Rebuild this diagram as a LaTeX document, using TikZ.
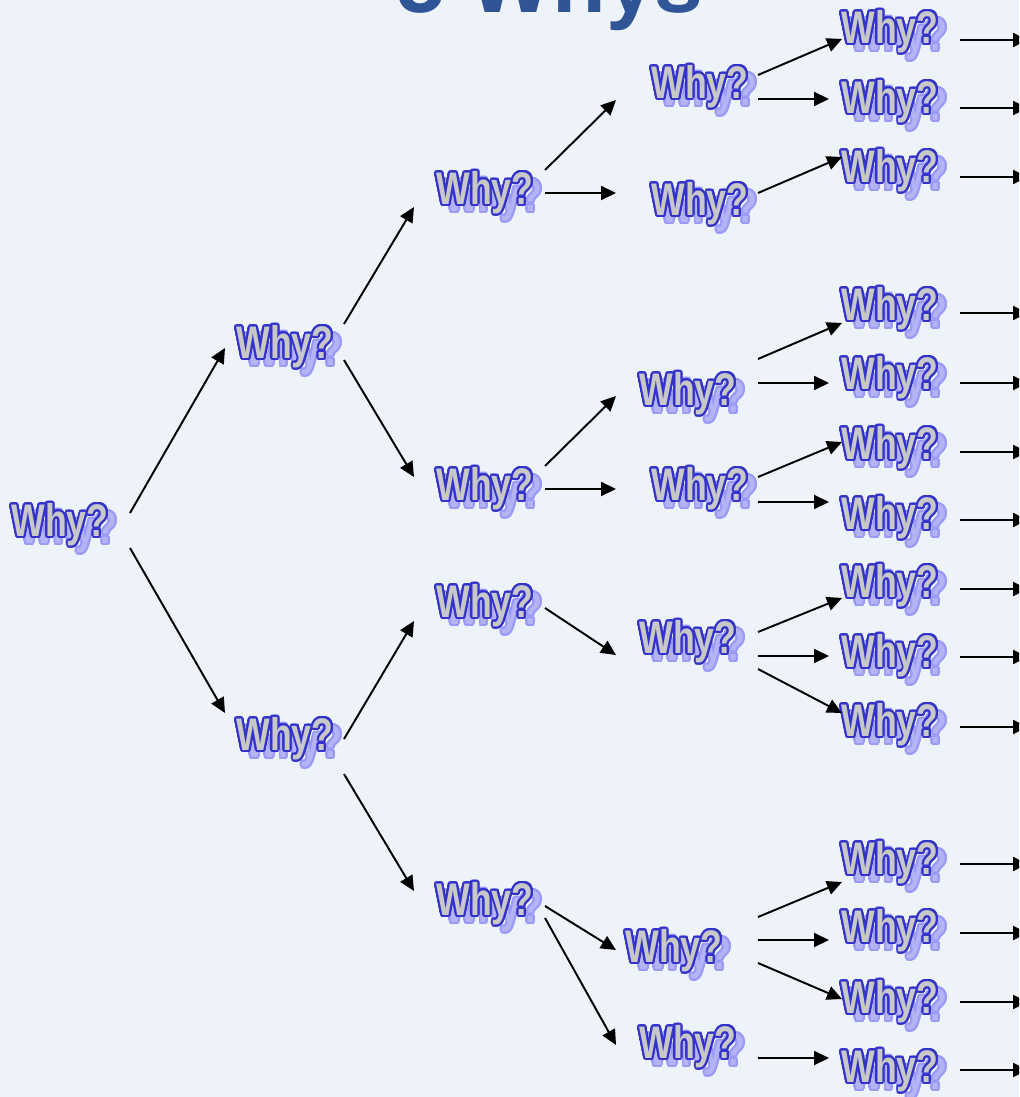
\documentclass[tikz,border=0pt]{standalone}
\usepackage{fontspec}
\usepackage[copies]{contour}
\usetikzlibrary{arrows.meta}

\newfontfamily\whyfont[FakeStretch=0.78]{Liberation Sans}
\newfontfamily\titlefont{Liberation Sans}

\definecolor{bgcol}{HTML}{EEF3FA}
\definecolor{titleblue}{HTML}{2F5597}
\definecolor{whyfill}{HTML}{C8C8C8}
\definecolor{whyline}{HTML}{3333CC}
\definecolor{whyshade}{HTML}{B4B4F4}
\definecolor{whyshadeline}{HTML}{9A9AF8}

\contourlength{1.1pt}
\contournumber{24}

% outlined word with its shadow behind it
\newcommand{\whyword}{%
  \makebox[0pt][l]{\hspace{5pt}\smash{\raisebox{-4pt}{\color{whyshade}\contour{whyshadeline}{Why?}}}}%
  {\color{whyfill}\contour{whyline}{Why?}}}

\begin{document}
\begin{tikzpicture}[x=0.02cm,y=-0.02cm]
\tikzset{why/.style={inner sep=0pt, text height=18.6pt, text depth=0pt,
    font=\whyfont\bfseries\fontsize{26}{30}\selectfont},
  arr/.style={line width=1.1pt, -{Triangle[length=0.3cm,width=0.28cm]}}}
\useasboundingbox (0,0) rectangle (1019,1097);
\clip (0,0) rectangle (1019,1097);
\fill[bgcol] (0,0) rectangle (1019,1097);
\node[font=\titlefont\bfseries\fontsize{50}{60}\selectfont, text=titleblue, anchor=base] (title) at (550,13) {5 Whys};
% first levels
\node[why] (root) at (60,520) {\whyword};
\node[why] (a1) at (285,342) {\whyword};
\node[why] (a2) at (285,734) {\whyword};
\node[why] (b1) at (485,188) {\whyword};
\node[why] (b2) at (485,484) {\whyword};
\node[why] (b3) at (485,601) {\whyword};
\node[why] (b4) at (485,899) {\whyword};
\node[why] (c1) at (700,82) {\whyword};
\node[why] (c2) at (700,199) {\whyword};
\node[why] (c3) at (688,389) {\whyword};
\node[why] (c4) at (700,484) {\whyword};
\node[why] (c5) at (688,637) {\whyword};
\node[why] (c6) at (674,946) {\whyword};
\node[why] (c7) at (688,1042) {\whyword};
% last level, with the arrows leaving the page
\foreach \y/\a [count=\i] in {27/40,97/108,166/177,304/313,373/383,443/452,513/520,581/589,651/657,720/727,858/864,926/933,997/1002,1066/1070} {
  \node[why] (d\i) at (890,\y) {\whyword};
  \coordinate (r\i) at (1028,\a);
  \draw[arr] ([shift={(70,\a-\y)}]d\i.center) -- (r\i);
}
\draw[arr] ([shift={(70,-7)}]root.center) -- ([shift={(-60,6)}]a1.center);
\draw[arr] ([shift={(70,28)}]root.center) -- ([shift={(-60,-21)}]a2.center);
\draw[arr] ([shift={(59,-18)}]a1.center) -- ([shift={(-71,19)}]b1.center);
\draw[arr] ([shift={(59,18)}]a1.center) -- ([shift={(-71,-7)}]b2.center);
\draw[arr] ([shift={(59,5)}]a2.center) -- ([shift={(-71,20)}]b3.center);
\draw[arr] ([shift={(59,40)}]a2.center) -- ([shift={(-71,-8)}]b4.center);
\draw[arr] ([shift={(60,-18)}]b1.center) -- ([shift={(-84,18)}]c1.center);
\draw[arr] ([shift={(60,5)}]b1.center) -- ([shift={(-84,-6)}]c2.center);
\draw[arr] ([shift={(60,-18)}]b2.center) -- ([shift={(-72,7)}]c3.center);
\draw[arr] ([shift={(60,5)}]b2.center) -- ([shift={(-84,5)}]c4.center);
\draw[arr] ([shift={(60,7)}]b3.center) -- ([shift={(-72,18)}]c5.center);
\draw[arr] ([shift={(60,7)}]b4.center) -- ([shift={(-58,4)}]c6.center);
\draw[arr] ([shift={(60,19)}]b4.center) -- ([shift={(-72,3)}]c7.center);
\draw[arr] ([shift={(58,-7)}]c1.center) -- ([shift={(-48,12)}]d1.center);
\draw[arr] ([shift={(58,17)}]c1.center) -- ([shift={(-61,2)}]d2.center);
\draw[arr] ([shift={(58,-6)}]c2.center) -- ([shift={(-48,-9)}]d3.center);
\draw[arr] ([shift={(70,-30)}]c3.center) -- ([shift={(-48,19)}]d4.center);
\draw[arr] ([shift={(70,-6)}]c3.center) -- ([shift={(-61,10)}]d5.center);
\draw[arr] ([shift={(58,-7)}]c4.center) -- ([shift={(-48,-1)}]d6.center);
\draw[arr] ([shift={(58,18)}]c4.center) -- ([shift={(-61,-11)}]d7.center);
\draw[arr] ([shift={(70,-5)}]c5.center) -- ([shift={(-48,17)}]d8.center);
\draw[arr] ([shift={(70,19)}]c5.center) -- ([shift={(-61,5)}]d9.center);
\draw[arr] ([shift={(70,32)}]c5.center) -- ([shift={(-48,-7)}]d10.center);
\draw[arr] ([shift={(84,-29)}]c6.center) -- ([shift={(-48,24)}]d11.center);
\draw[arr] ([shift={(84,-6)}]c6.center) -- ([shift={(-61,14)}]d12.center);
\draw[arr] ([shift={(84,17)}]c6.center) -- ([shift={(-48,2)}]d13.center);
\draw[arr] ([shift={(70,16)}]c7.center) -- ([shift={(-61,-8)}]d14.center);
\end{tikzpicture}
\end{document}
